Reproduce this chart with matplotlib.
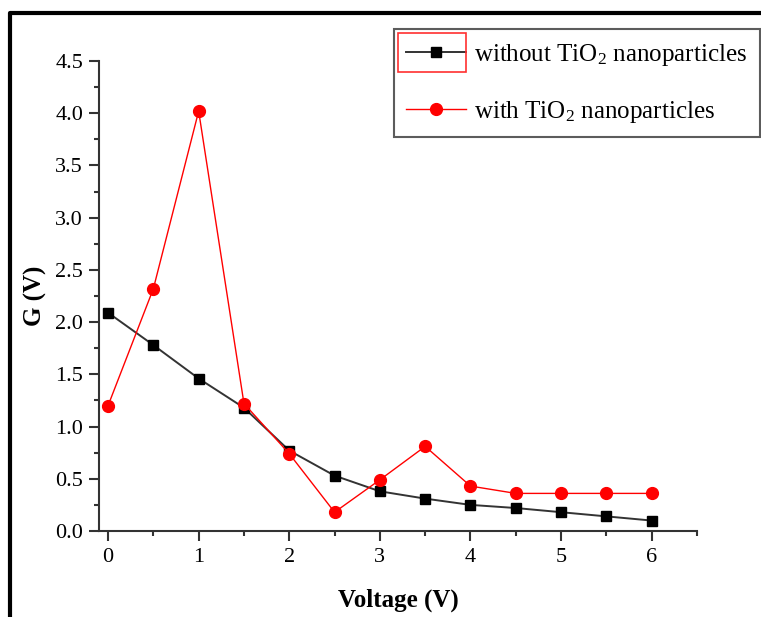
import matplotlib
matplotlib.use("Agg")
import matplotlib.pyplot as plt
from matplotlib.lines import Line2D
from matplotlib.patches import Rectangle
from matplotlib.ticker import MultipleLocator

plt.rcParams['font.family'] = ['Liberation Serif', 'DejaVu Serif']
plt.rcParams['mathtext.default'] = 'regular'

voltage = [0, 0.5, 1, 1.5, 2, 2.5, 3, 3.5, 4, 4.5, 5, 5.5, 6]
g_without = [2.09, 1.78, 1.46, 1.18, 0.77, 0.53, 0.38, 0.31, 0.25, 0.22, 0.18, 0.14, 0.10]
g_with = [1.20, 2.32, 4.02, 1.22, 0.74, 0.18, 0.49, 0.81, 0.43, 0.36, 0.36, 0.36, 0.36]
labels = ['without TiO$_2$ nanoparticles', 'with TiO$_2$ nanoparticles']

W, H = 761, 617
fig = plt.figure(figsize=(W / 100, H / 100), dpi=100)
ax = fig.add_axes([99 / W, 1 - 531 / H, (697 - 99) / W, (531 - 61) / H])

ax.plot(voltage, g_without, color='#333333', lw=1.4, marker='s', ms=7.5,
        mfc='black', mec='black', label=labels[0], clip_on=False, zorder=3)
ax.plot(voltage, g_with, color='#ff0000', lw=1.0, marker='o', ms=8.5,
        mfc='#ff0000', mec='#ff0000', label=labels[1], clip_on=False, zorder=4)

ax.set_xlim(-0.1, 6.5)
ax.set_ylim(0, 4.5)
ax.xaxis.set_major_locator(MultipleLocator(1))
ax.xaxis.set_minor_locator(MultipleLocator(0.5))
ax.yaxis.set_major_locator(MultipleLocator(0.5))
ax.yaxis.set_minor_locator(MultipleLocator(0.25))
ax.yaxis.set_major_formatter(plt.FormatStrFormatter('%.1f'))

for side in ('top', 'right'):
    ax.spines[side].set_visible(False)
for side in ('left', 'bottom'):
    ax.spines[side].set_linewidth(1.5)
    ax.spines[side].set_color('#333333')
ax.tick_params(which='major', direction='out', length=7.5, width=1.5,
               color='#333333', labelsize=16)
ax.tick_params(axis='y', which='major', pad=4)
ax.tick_params(axis='x', which='major', pad=5)
ax.tick_params(which='minor', direction='out', length=3.8, width=1.5, color='#333333')

ax.set_xlabel('Voltage (V)', fontsize=18, fontweight='bold', labelpad=15)
ax.set_ylabel('G (V)', fontsize=18, fontweight='bold', labelpad=6)

leg = ax.legend(loc='upper left', bbox_to_anchor=(394 / W, 1 - 29 / H),
                bbox_transform=fig.transFigure, fontsize=18, frameon=True,
                fancybox=False, handlelength=2.4, handletextpad=0.3,
                borderpad=0.5, borderaxespad=0, labelspacing=1.25)
leg.get_frame().set_edgecolor('#333333')
leg.get_frame().set_linewidth(1.5)

# selection box around the first legend key
fig.patches.append(Rectangle((398 / W, 1 - 72 / H), 68 / W, 39 / H,
                             transform=fig.transFigure, fill=False,
                             edgecolor='#ff3030', lw=1.2))

# outer page frame
fig.lines.append(Line2D([10 / W, 10 / W, 1.01], [-0.01, 1 - 13 / H, 1 - 13 / H],
                        transform=fig.transFigure, color='black', lw=3))

fig.savefig('out.png', dpi=100)
